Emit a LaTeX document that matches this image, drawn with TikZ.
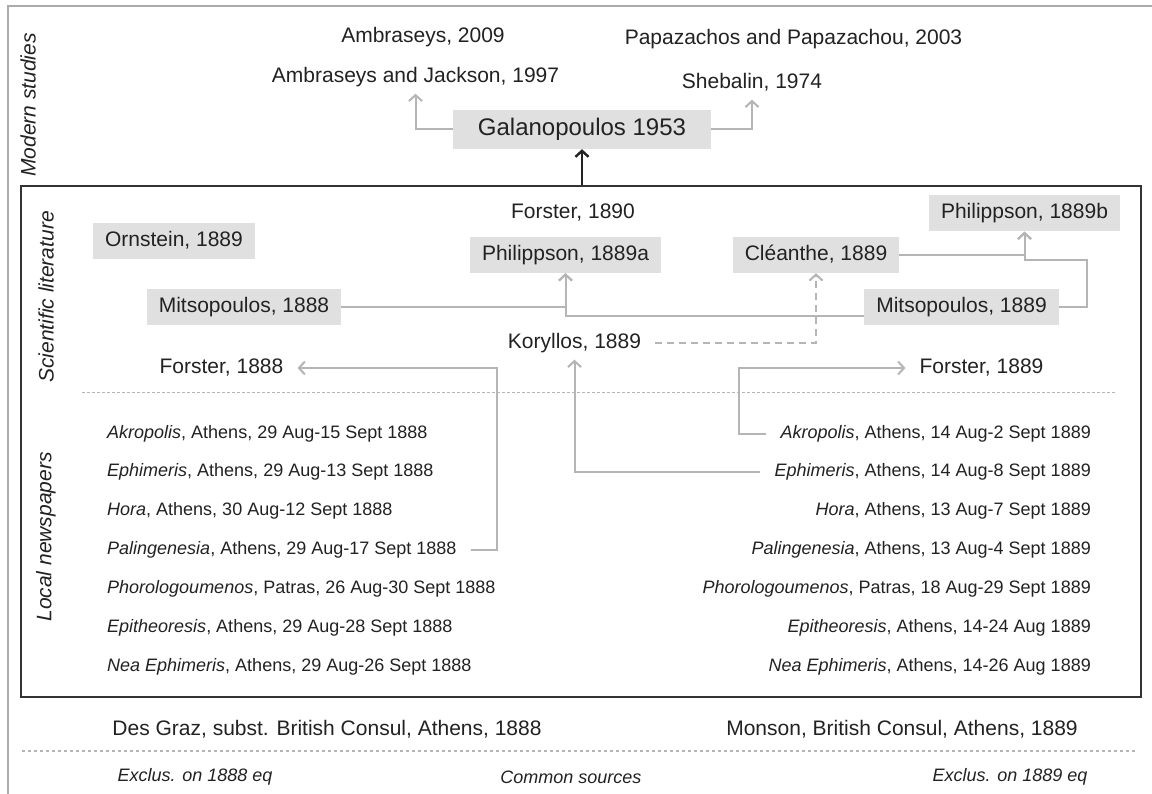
\documentclass[tikz,border=0pt]{standalone}
\usepackage{fontspec}
\setmainfont{Liberation Sans}
\usetikzlibrary{arrows.meta}
\definecolor{tgray}{HTML}{222222}
\definecolor{bgray}{HTML}{E0E0E0}
\definecolor{cgray}{HTML}{B5B5B5}
\definecolor{fgray}{HTML}{333333}
\definecolor{ogray}{HTML}{ABABAB}
\definecolor{dgray}{HTML}{B5B5B5}
\begin{document}
\begin{tikzpicture}[x=1pt,y=-1pt,
  lbl/.style={font=\fontsize{21}{25}\selectfont, text=tgray, inner xsep=14pt, inner ysep=7pt, text height=15pt, text depth=4pt},
  gbox/.style={lbl, fill=bgray, inner xsep=12pt, minimum height=36pt},
  news/.style={font=\fontsize{18}{22}\selectfont, text=tgray, inner xsep=14pt, inner ysep=6pt, text height=13pt, text depth=4pt},
  side/.style={font=\fontsize{21}{25}\selectfont\itshape, text=tgray, rotate=90, inner sep=2pt},
  foot/.style={font=\fontsize{18}{22}\selectfont\itshape, text=tgray, inner sep=2pt},
  conn/.style={draw=cgray, line width=2pt, -{Straight Barb[length=6pt,width=13pt]}},
  blackarrow/.style={draw=tgray, line width=2.4pt, -{Straight Barb[length=6pt,width=13pt]}},
  sep/.style={draw=dgray, line width=1pt, dash pattern=on 3pt off 2pt},
  footsep/.style={draw=dgray, line width=1.6pt, dash pattern=on 3pt off 3pt}
]
\useasboundingbox (0,0) rectangle (1152,794);
\fill[white] (0,0) rectangle (1152,794);

% outer frame
\draw[ogray, line width=2.5pt] (8,794) -- (8,6) -- (1152,6);

% inner frame
\node[draw=fgray, line width=2pt, minimum width=1120pt, minimum height=511pt, inner sep=0pt] (frame) at (581,441.5) {};

% side labels
\node[side] (ms) at (28,105) {Modern studies};
\node[side] (sl) at (46,297) {Scientific literature};
\node[side] (ln) at (46,537) {Local newspapers};

% modern studies
\node[gbox, font=\fontsize{24}{28}\selectfont, text height=17pt, text depth=5pt, minimum height=39pt, inner xsep=25pt] (gal) at (582,129.5) {Galanopoulos 1953};
\node[lbl] (amb09) at (423,37) {Ambraseys, 2009};
\node[lbl] (ambj) at (415.5,77) {Ambraseys and Jackson, 1997};
\node[lbl] (papa) at (793.5,39) {Papazachos and Papazachou, 2003};
\node[lbl] (sheb) at (752,83) {Shebalin, 1974};
\draw[conn] (gal.west) -| (ambj.south);
\draw[conn] (gal.east) -| (sheb.south);
\draw[blackarrow] (gal.south |- frame.north) -- (gal.south);

% scientific literature
\node[gbox] (orn) at (174,241.5) {Ornstein, 1889};
\node[lbl] (f90) at (573,213) {Forster, 1890};
\node[gbox] (p89a) at (565.5,255) {Philippson, 1889a};
\node[gbox] (cle) at (816,255) {Cléanthe, 1889};
\node[gbox] (p89b) at (1024.5,213.5) {Philippson, 1889b};
\node[gbox] (m88) at (244,307) {Mitsopoulos, 1888};
\node[gbox] (m89) at (961.5,307) {Mitsopoulos, 1889};
\node[lbl] (kor) at (574.5,343) {Koryllos, 1889};
\node[lbl] (f88) at (221.5,368) {Forster, 1888};
\node[lbl] (f89) at (981.5,368) {Forster, 1889};

\coordinate (y316) at (0,316);
\coordinate (mj) at (1087,260);
\draw[conn] (m88.east) -| (p89a.south);
\draw[conn] (m89.west |- y316) -| (p89a.south);
\draw[conn] (cle.east) -| (p89b.south);
\draw[conn] (m89.east) -| (mj) -| (p89b.south);
\draw[conn, dash pattern=on 7pt off 5pt] (kor.east) -| (cle.south);

\draw[sep] (82,393) -- (1116,393);

% local newspapers, 1888
\node[news, anchor=west] (l1) at (93,434) {\textit{Akropolis}, Athens, 29 Aug-15 Sept 1888};
\node[news, anchor=west] (l2) at (93,472) {\textit{Ephimeris}, Athens, 29 Aug-13 Sept 1888};
\node[news, anchor=west] (l3) at (93,511) {\textit{Hora}, Athens, 30 Aug-12 Sept 1888};
\node[news, anchor=west] (l4) at (93,550) {\textit{Palingenesia}, Athens, 29 Aug-17 Sept 1888};
\node[news, anchor=west] (l5) at (93,589) {\textit{Phorologoumenos}, Patras, 26 Aug-30 Sept 1888};
\node[news, anchor=west] (l6) at (93,628) {\textit{Epitheoresis}, Athens, 29 Aug-28 Sept 1888};
\node[news, anchor=west] (l7) at (93,667) {\textit{Nea Ephimeris}, Athens, 29 Aug-26 Sept 1888};

% local newspapers, 1889
\node[news, anchor=east] (r1) at (1105,434) {\textit{Akropolis}, Athens, 14 Aug-2 Sept 1889};
\node[news, anchor=east] (r2) at (1105,472) {\textit{Ephimeris}, Athens, 14 Aug-8 Sept 1889};
\node[news, anchor=east] (r3) at (1105,511) {\textit{Hora}, Athens, 13 Aug-7 Sept 1889};
\node[news, anchor=east] (r4) at (1105,550) {\textit{Palingenesia}, Athens, 13 Aug-4 Sept 1889};
\node[news, anchor=east] (r5) at (1105,589) {\textit{Phorologoumenos}, Patras, 18 Aug-29 Sept 1889};
\node[news, anchor=east] (r6) at (1105,628) {\textit{Epitheoresis}, Athens, 14-24 Aug 1889};
\node[news, anchor=east] (r7) at (1105,667) {\textit{Nea Ephimeris}, Athens, 14-26 Aug 1889};

\draw[conn] (l4.east) -- ++(26,0) |- (f88.east);
\draw[conn] (r1.west) -- ++(-27,0) |- (f89.west);
\draw[conn] (r2.west) -| (kor.south);

% bottom
\node[lbl] (dg) at (327,730) {Des Graz, subst. British Consul, Athens, 1888};
\node[lbl] (mon) at (902,730) {Monson, British Consul, Athens, 1889};
\draw[footsep] (22,751) -- (1136,751);
\node[foot] (e88) at (195,777) {Exclus. on 1888 eq};
\node[foot] (cs) at (571,777) {Common sources};
\node[foot] (e89) at (1010,777) {Exclus. on 1889 eq};
\end{tikzpicture}
\end{document}
